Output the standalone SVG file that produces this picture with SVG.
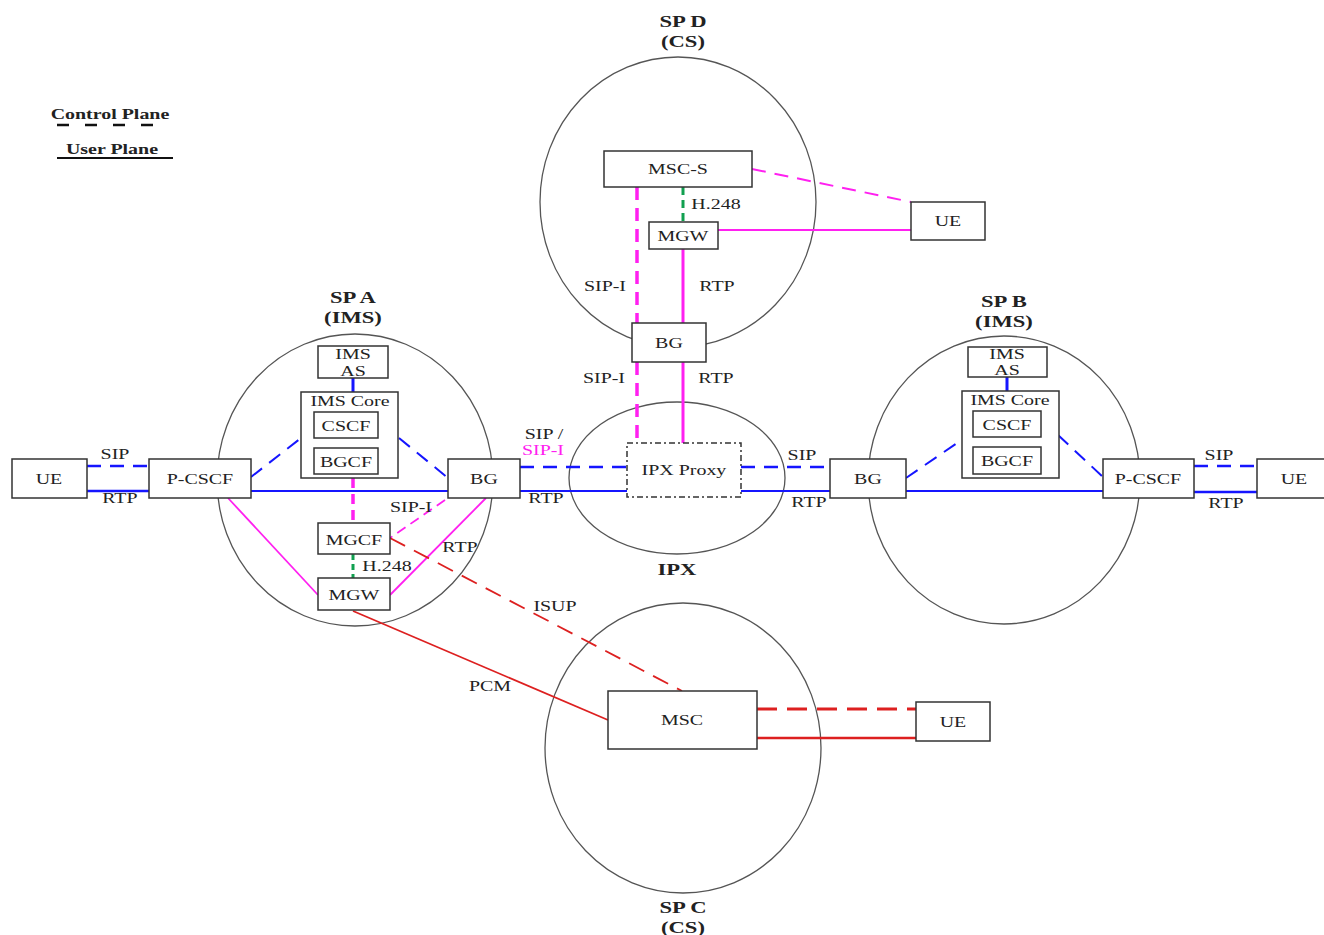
<svg xmlns="http://www.w3.org/2000/svg" width="1324" height="935" viewBox="0 0 1324 935">
<style>
text{font-family:"Liberation Serif","Times New Roman",Times,serif;font-size:15px;fill:#222;text-anchor:middle;transform-box:fill-box;transform-origin:50% 50%;transform:scaleX(1.33)}
.t{font-weight:bold;font-size:17px}
.node rect{fill:#fff;stroke:#333;stroke-width:1.5}
.dom{fill:none;stroke:#555;stroke-width:1.3}
.c{fill:none;stroke-width:2}
.b{stroke:#1515ff}
.m{stroke:#ff20f0}
.g{stroke:#11a050}
.r{stroke:#dd2020}
.d{stroke-dasharray:14 9}
.lg{font-weight:bold;font-size:15px}
</style>
<rect width="1324" height="935" fill="#fff"/>
<g id="legend">
<text class="lg" x="110" y="119">Control Plane</text>
<line x1="57" y1="125" x2="160" y2="125" stroke="#111" stroke-width="2.5" stroke-dasharray="12 16"/>
<text class="lg" x="112" y="154">User Plane</text>
<line x1="57" y1="158" x2="173" y2="158" stroke="#111" stroke-width="2"/>
</g>
<g id="domains">
<ellipse class="dom" cx="678" cy="202" rx="138" ry="145"/>
<ellipse class="dom" cx="677" cy="478" rx="108" ry="76"/>
<ellipse class="dom" cx="355" cy="480" rx="138" ry="146"/>
<ellipse class="dom" cx="1004" cy="480" rx="136" ry="144"/>
<ellipse class="dom" cx="683" cy="748" rx="138" ry="145"/>
<text class="t" x="683" y="27">SP D</text>
<text class="t" x="683" y="47">(CS)</text>
<text class="t" x="353" y="303">SP A</text>
<text class="t" x="353" y="323">(IMS)</text>
<text class="t" x="1004" y="307">SP B</text>
<text class="t" x="1004" y="327">(IMS)</text>
<text class="t" x="677" y="575">IPX</text>
<text class="t" x="683" y="913">SP C</text>
<text class="t" x="683" y="933">(CS)</text>
</g>
<g id="connectors">
<line class="c g" x1="683" y1="187" x2="683" y2="222" style="stroke-width:3;stroke-dasharray:8 5"/>
<line class="c m d" x1="752" y1="169" x2="911" y2="202"/>
<line class="c m" x1="718" y1="230" x2="911" y2="230"/>
<line class="c m" x1="637" y1="187" x2="637" y2="323" style="stroke-width:3.5;stroke-dasharray:13 8"/>
<line class="c m" x1="637" y1="362" x2="637" y2="443" style="stroke-width:3.5;stroke-dasharray:13 8"/>
<line class="c m" x1="683" y1="249" x2="683" y2="323" style="stroke-width:3"/>
<line class="c m" x1="683" y1="362" x2="683" y2="443" style="stroke-width:3"/>
<line class="c b d" x1="520" y1="467" x2="627" y2="467" style="stroke-width:2.5"/>
<line class="c b" x1="520" y1="491" x2="627" y2="491"/>
<line class="c b d" x1="741" y1="467" x2="830" y2="467" style="stroke-width:2.5"/>
<line class="c b" x1="741" y1="491" x2="830" y2="491"/>
<line class="c b d" x1="87" y1="466" x2="149" y2="466" style="stroke-width:2.5"/>
<line class="c b" x1="87" y1="491" x2="149" y2="491" style="stroke-width:2.5"/>
<line class="c b d" x1="251" y1="477" x2="301" y2="438"/>
<line class="c b d" x1="399" y1="438" x2="448" y2="478"/>
<line class="c b" x1="251" y1="491" x2="448" y2="491"/>
<line class="c b" x1="353" y1="378" x2="353" y2="392" style="stroke-width:3"/>
<line class="c m" x1="353" y1="478" x2="353" y2="523" style="stroke-width:3.5;stroke-dasharray:10 6"/>
<line class="c m" x1="445" y1="500" x2="390" y2="538" style="stroke-width:1.8;stroke-dasharray:10 6"/>
<line class="c g" x1="353" y1="554" x2="353" y2="578" style="stroke-width:3;stroke-dasharray:6 4"/>
<line class="c m" x1="228" y1="498" x2="318" y2="595" style="stroke-width:1.8"/>
<line class="c m" x1="486" y1="498" x2="390" y2="595" style="stroke-width:1.8"/>
<line class="c r" x1="390" y1="538" x2="682" y2="691" style="stroke-width:1.8;stroke-dasharray:17 10"/>
<line class="c r" x1="353" y1="611" x2="608" y2="720" style="stroke-width:1.8"/>
<line class="c r" x1="757" y1="709" x2="916" y2="709" style="stroke-width:3;stroke-dasharray:20 10"/>
<line class="c r" x1="757" y1="738" x2="916" y2="738" style="stroke-width:2.5"/>
<line class="c b" x1="1007" y1="377" x2="1007" y2="391" style="stroke-width:3"/>
<line class="c b d" x1="906" y1="478" x2="960" y2="441"/>
<line class="c b d" x1="1058" y1="435" x2="1103" y2="477"/>
<line class="c b" x1="906" y1="491" x2="1103" y2="491"/>
<line class="c b d" x1="1194" y1="466" x2="1257" y2="466" style="stroke-width:2.5"/>
<line class="c b" x1="1194" y1="492" x2="1257" y2="492" style="stroke-width:2.5"/>
</g>
<g id="labels">
<text x="716" y="209">H.248</text>
<text x="605" y="291">SIP-I</text>
<text x="717" y="291">RTP</text>
<text x="604" y="383">SIP-I</text>
<text x="716" y="383">RTP</text>
<text x="544" y="439">SIP /</text>
<text x="543" y="455" style="fill:#ff20f0">SIP-I</text>
<text x="546" y="503">RTP</text>
<text x="802" y="460">SIP</text>
<text x="809" y="507">RTP</text>
<text x="115" y="459">SIP</text>
<text x="120" y="503">RTP</text>
<text x="411" y="512">SIP-I</text>
<text x="460" y="552">RTP</text>
<text x="387" y="571">H.248</text>
<text x="555" y="611">ISUP</text>
<text x="490" y="691">PCM</text>
<text x="1219" y="460">SIP</text>
<text x="1226" y="508">RTP</text>
</g>
<g id="msc-s" class="node"><rect x="604" y="151" width="148" height="36"/><text x="678" y="174">MSC-S</text></g>
<g id="mgw-d" class="node"><rect x="649" y="222" width="69" height="27"/><text x="683" y="241">MGW</text></g>
<g id="ue-d" class="node"><rect x="911" y="202" width="74" height="38"/><text x="948" y="226">UE</text></g>
<g id="bg-d" class="node"><rect x="632" y="323" width="74" height="39"/><text x="669" y="348">BG</text></g>
<g id="ipx-proxy" class="node"><rect x="627" y="443" width="114" height="54" style="stroke-dasharray:6 3 2 3"/><text x="684" y="475">IPX Proxy</text></g>
<g id="ue-a" class="node"><rect x="12" y="459" width="75" height="39"/><text x="49" y="484">UE</text></g>
<g id="pcscf-a" class="node"><rect x="149" y="459" width="102" height="39"/><text x="200" y="484">P-CSCF</text></g>
<g id="imsas-a" class="node"><rect x="318" y="346" width="70" height="32"/><text x="353" y="359">IMS</text><text x="353" y="376">AS</text></g>
<g id="imscore-a" class="node"><rect x="301" y="392" width="97" height="86"/><text x="350" y="406">IMS Core</text></g>
<g id="cscf-a" class="node"><rect x="314" y="412" width="64" height="26"/><text x="346" y="431">CSCF</text></g>
<g id="bgcf-a" class="node"><rect x="314" y="448" width="64" height="26"/><text x="346" y="467">BGCF</text></g>
<g id="bg-a" class="node"><rect x="448" y="459" width="72" height="39"/><text x="484" y="484">BG</text></g>
<g id="mgcf-a" class="node"><rect x="318" y="523" width="72" height="31"/><text x="354" y="545">MGCF</text></g>
<g id="mgw-a" class="node"><rect x="318" y="578" width="72" height="32"/><text x="354" y="600">MGW</text></g>
<g id="msc-c" class="node"><rect x="608" y="691" width="149" height="58"/><text x="682" y="725">MSC</text></g>
<g id="ue-c" class="node"><rect x="916" y="702" width="74" height="39"/><text x="953" y="727">UE</text></g>
<g id="bg-b" class="node"><rect x="830" y="459" width="76" height="39"/><text x="868" y="484">BG</text></g>
<g id="imsas-b" class="node"><rect x="968" y="347" width="79" height="30"/><text x="1007" y="359">IMS</text><text x="1007" y="375">AS</text></g>
<g id="imscore-b" class="node"><rect x="962" y="391" width="97" height="87"/><text x="1010" y="405">IMS Core</text></g>
<g id="cscf-b" class="node"><rect x="973" y="411" width="68" height="26"/><text x="1007" y="430">CSCF</text></g>
<g id="bgcf-b" class="node"><rect x="973" y="447" width="68" height="27"/><text x="1007" y="466">BGCF</text></g>
<g id="pcscf-b" class="node"><rect x="1103" y="459" width="91" height="39"/><text x="1148" y="484">P-CSCF</text></g>
<g id="ue-b" class="node"><rect x="1257" y="459" width="75" height="39"/><text x="1294" y="484">UE</text></g>
</svg>
